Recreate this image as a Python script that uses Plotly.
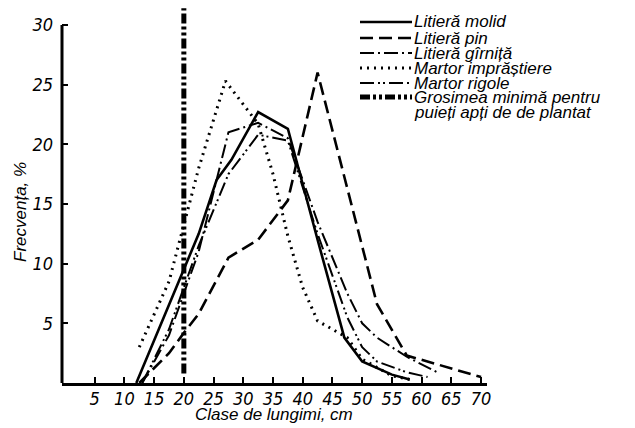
import plotly.graph_objects as go

# ---- data ----
molid_x = [12, 22.5, 25.5, 28, 32.5, 37.5, 42.5, 47, 50, 55, 58]
molid_y = [0, 12.5, 17, 18.7, 22.7, 21.3, 12, 3.8, 1.8, 0.7, 0.3]

pin_x = [12.5, 17.5, 20, 22.5, 27.5, 32.5, 37.5, 42.5, 52.5, 57.5, 70]
pin_y = [0, 2.5, 4.2, 5.8, 10.5, 12, 15.3, 26, 6.6, 2.3, 0.5]

girnita_x = [13, 17.5, 22.5, 25, 27.5, 32.5, 37.5, 42.5, 47.5, 50, 52.5, 57.5, 63]
girnita_y = [0, 4, 11, 16, 21, 21.8, 20.5, 13.5, 7.5, 5, 3.8, 2.2, 0.8]

impr_x = [12.5, 17.5, 22.5, 27, 32.5, 35, 37.5, 40, 42.5, 47.5, 50, 55, 58]
impr_y = [3, 8.5, 18, 25.3, 21.7, 17.5, 12.3, 8, 5.2, 3.8, 2, 0.6, 0.3]

rigole_x = [13, 17.5, 22.5, 27.5, 32.5, 37.5, 42.5, 47.5, 50, 52.5, 57.5, 61]
rigole_y = [0, 4.5, 11.5, 17.5, 20.8, 20.3, 12.5, 5.5, 3, 1.8, 0.9, 0.5]

threshold_x = [20, 20]
threshold_y = [0.8, 31.4]

x_ticks = [5, 10, 15, 20, 25, 30, 35, 40, 45, 50, 55, 60, 65, 70]
y_ticks = [5, 10, 15, 20, 25, 30]

labels = ["Litieră molid", "Litieră pin", "Litieră gîrniță", "Martor imprăștiere",
          "Martor rigole", "Grosimea minimă pentru", "puieți apți de de plantat"]
x_title = "Clase de lungimi, cm"
y_title = "Frecvența, %"

# ---- styles ----
FONT = "Liberation Sans, Arial, sans-serif"
NARROW = "Liberation Sans Narrow, DejaVu Sans Condensed, Arial Narrow, sans-serif"
styles = [
    dict(width=2.6, dash="solid"),
    dict(width=2.6, dash="13px,6px"),
    dict(width=2.0, dash="14px,4px,2px,4px"),
    dict(width=3.0, dash="2px,5px"),
    dict(width=2.0, dash="14px,4px,2px,3px,2px,4px"),
    dict(width=5.0, dash="10px,3px,3px,3px,3px,3px"),
]
series = [(molid_x, molid_y), (pin_x, pin_y), (girnita_x, girnita_y),
          (impr_x, impr_y), (rigole_x, rigole_y), (threshold_x, threshold_y)]

fig = go.Figure()
for (xs, ys), st, name in zip(series, styles, labels):
    fig.add_trace(go.Scatter(x=xs, y=ys, mode="lines", name=name, showlegend=False,
                             line=dict(color="black", width=st["width"], dash=st["dash"])))

# geometry helpers (plot area px: x 62..487, y 7..383)
L, R, T, B = 62, 487, 7, 383
def px_x(p):
    return (p - L) / (R - L)
def px_y(p):
    return (B - p) / (B - T)

shapes = [
    dict(type="line", xref="paper", yref="y", x0=0, x1=0, y0=0, y1=30,
         line=dict(color="black", width=3)),
]
annotations = []
rows = [22, 38, 53, 68, 83, 97, 112]
for i, lab in enumerate(labels):
    yy = px_y(rows[i])
    if i < 6:
        st = styles[i]
        shapes.append(dict(type="line", xref="paper", yref="paper",
                           x0=px_x(360), x1=px_x(412), y0=yy, y1=yy,
                           line=dict(color="black", width=st["width"], dash=st["dash"])))
    annotations.append(dict(text=lab, xref="paper", yref="paper", x=px_x(412), y=yy,
                            xanchor="left", yanchor="middle", showarrow=False,
                            font=dict(family=FONT, size=17, color="black", style="italic")))

annotations.append(dict(text=x_title, xref="paper", yref="paper", x=px_x(274), y=px_y(414),
                        xanchor="center", yanchor="middle", showarrow=False,
                        font=dict(family=FONT, size=17, color="black", style="italic")))
annotations.append(dict(text=y_title, xref="paper", yref="paper", x=px_x(20), y=px_y(212),
                        xanchor="center", yanchor="middle", showarrow=False, textangle=-90,
                        font=dict(family=FONT, size=17, color="black", style="italic")))

fig.update_layout(
    width=635, height=428,
    margin=dict(l=L, r=635 - R, t=T, b=428 - B),
    paper_bgcolor="white", plot_bgcolor="white",
    shapes=shapes, annotations=annotations,
    xaxis=dict(range=[-0.5, 71], tickvals=x_ticks, ticktext=[str(v) for v in x_ticks],
               ticks="inside", ticklen=6, tickwidth=2, tickcolor="black", automargin=False,
               showline=True, linewidth=3, linecolor="black", showgrid=False, zeroline=False,
               ticklabelstandoff=-3,
               tickfont=dict(family=NARROW, size=18, color="black", style="italic")),
    yaxis=dict(range=[0, 31.5], tickvals=y_ticks, ticktext=[str(v) for v in y_ticks],
               ticks="inside", ticklen=6, tickwidth=2, tickcolor="black", automargin=False,
               showline=False, showgrid=False, zeroline=False, ticklabelstandoff=8,
               tickfont=dict(family=NARROW, size=18, color="black", style="italic")),
)

fig.write_html("out.html", config={"displayModeBar": False})

# remove the browser's default page margin so the figure sits at the window's corner
with open("out.html", "r", encoding="utf-8") as f:
    html = f.read()
html = html.replace("<head>", "<head><style>html,body{margin:0;padding:0;overflow:hidden;}</style>", 1)
with open("out.html", "w", encoding="utf-8") as f:
    f.write(html)
